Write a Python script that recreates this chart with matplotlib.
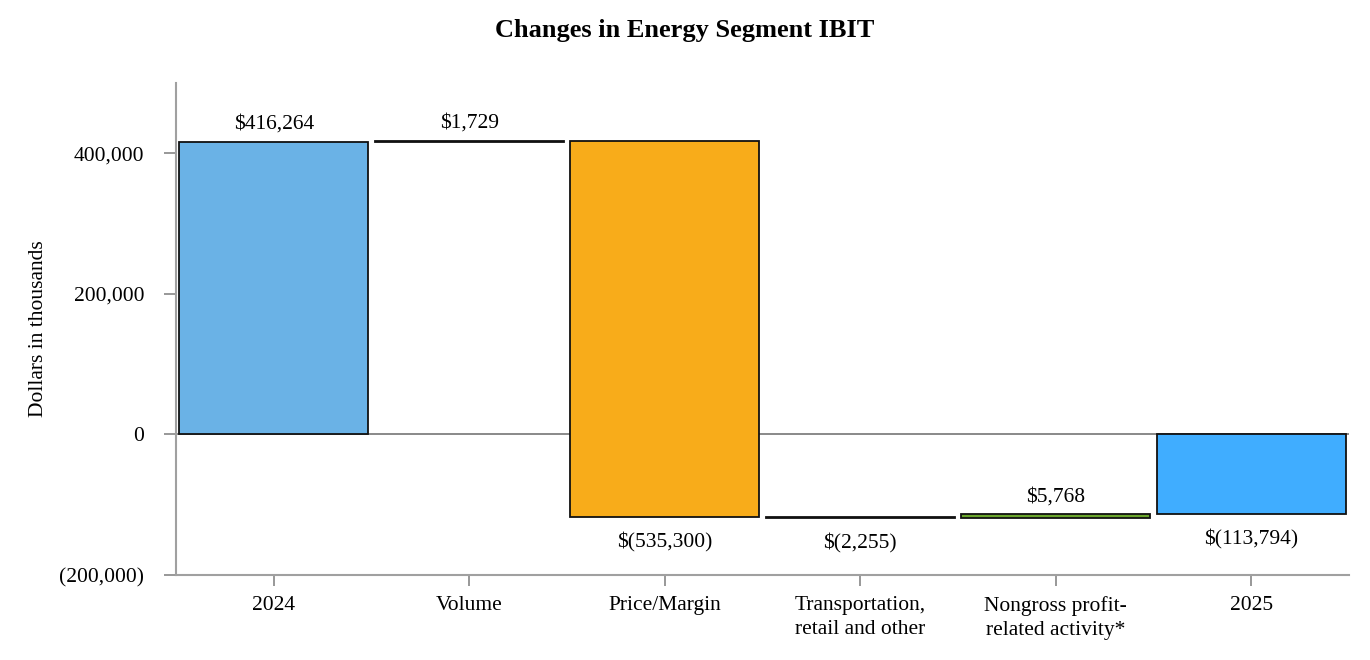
import matplotlib
matplotlib.use("Agg")
import matplotlib.pyplot as plt
from matplotlib.ticker import FuncFormatter

categories = ["2024", "Volume", "Price/Margin", "Transportation,\nretail and other",
              "Nongross profit-\nrelated activity*", "2025"]
changes = [416264, 1729, -535300, -2255, 5768, -113794]
is_total = [True, False, False, False, False, True]
colors = ["#6AB2E6", "#000000", "#F8AC1A", "#000000", "#6AA52C", "#40ADFF"]
labels = ["$416,264", "$1,729", "$(535,300)", "$(2,255)", "$5,768", "$(113,794)"]
yticks = [-200000, 0, 200000, 400000]

plt.rcParams['font.family'] = ['Liberation Serif', 'DejaVu Serif']
FS = 15.5

fig = plt.figure(figsize=(13.7, 6.6), dpi=100)
ax = fig.add_axes([176/1370, 1-575/660, (1349-176)/1370, (575-83)/660])

running = 0
for i, (v, tot) in enumerate(zip(changes, is_total)):
    if tot:
        bottom, height = 0, v
        running = v
    else:
        bottom, height = running, v
        running += v
    ax.bar(i, height, bottom=bottom, width=0.965, color=colors[i],
           edgecolor="#111111", linewidth=1.3, zorder=3)
    top = max(bottom, bottom + height)
    low = min(bottom, bottom + height)
    if v >= 0:
        ax.annotate(labels[i], (i, top), xytext=(0, 6), textcoords="offset points",
                    ha="center", va="bottom", fontsize=FS)
    else:
        ax.annotate(labels[i], (i, low), xytext=(0, -11), textcoords="offset points",
                    ha="center", va="top", fontsize=FS)

ax.axhline(0, color="#808080", linewidth=1.3, zorder=2)
ax.set_xlim(-0.5, 5.5)
ax.set_ylim(-200000, 500000)
ax.set_yticks(yticks)
ax.yaxis.set_major_formatter(FuncFormatter(
    lambda v, p: f"({abs(int(v)):,})" if v < 0 else f"{int(v):,}"))
ax.set_xticks(range(len(categories)))
ax.set_xticklabels(categories, fontsize=FS, linespacing=1.4)
ax.tick_params(axis="y", labelsize=FS, length=9, color="#909090", width=1.3, pad=14)
ax.tick_params(axis="x", length=8, color="#909090", width=1.3, pad=7)
for s in ["top", "right"]:
    ax.spines[s].set_visible(False)
for s in ["left", "bottom"]:
    ax.spines[s].set_color("#a0a0a0")
    ax.spines[s].set_linewidth(1.5)
ax.set_ylabel("Dollars in thousands", fontsize=FS)
ax.yaxis.set_label_coords(-(176-48)/1173, 0.5)
fig.text(0.5, 1-30/660, "Changes in Energy Segment IBIT", ha="center", va="center",
         fontsize=19, fontweight="bold")
fig.savefig("out.png", dpi=100)
